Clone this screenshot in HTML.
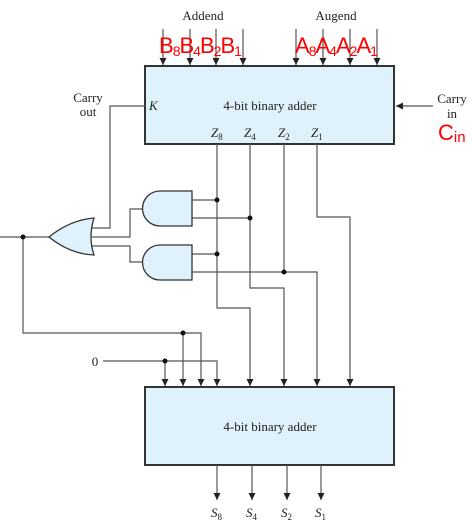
<!DOCTYPE html>
<html><head><style>
body{margin:0;background:#fff;}
svg{display:block;}
text{font-family:"Liberation Serif",serif;fill:#222;}
.r{font-family:"Liberation Sans",sans-serif;fill:#f00;}
</style></head><body>
<svg width="472" height="531" viewBox="0 0 472 531" xmlns="http://www.w3.org/2000/svg">
<defs><marker id="a" markerWidth="8" markerHeight="8" refX="7" refY="4" orient="auto" markerUnits="userSpaceOnUse"><path d="M0,0.5 L7,4 L0,7.5 Z" fill="#222"/></marker></defs>
<rect x="145" y="66" width="249" height="78" fill="#dff1fb" stroke="#333" stroke-width="2"/>
<rect x="145" y="387" width="249" height="78" fill="#dff1fb" stroke="#333" stroke-width="2"/>
<g stroke="#555" stroke-width="1.2" fill="none" marker-end="url(#a)">
<path d="M163,29V65"/><path d="M190,29V65"/><path d="M216,29V65"/><path d="M243,29V65"/>
<path d="M296,29V65"/><path d="M323,29V65"/><path d="M350,29V65"/><path d="M377,29V65"/>
<path d="M433,106H396"/>
<path d="M23,237V333H201V386"/><path d="M183,333V386"/>
<path d="M103,361H217V386"/><path d="M165,361V386"/>
<path d="M217,144V308H250V386"/>
<path d="M250,144V288H284V386"/>
<path d="M192,272H317V386"/>
<path d="M317,144V217H350V386"/>
<path d="M217,465V500"/><path d="M252,465V500"/><path d="M287,465V500"/><path d="M321,465V500"/>
</g>
<g stroke="#555" stroke-width="1.2" fill="none">
<path d="M0,237H49"/>
<path d="M145,106H110V228H92"/>
<path d="M92,237H130V209H146"/>
<path d="M92,246H130V262H146"/>
<path d="M192,200H217"/><path d="M192,218H250"/><path d="M192,254H217"/>
<path d="M284,144V272"/>
</g>
<g fill="#dff1fb" stroke="#333" stroke-width="1.3">
<path d="M160,191H192V226H160A17.5,17.5 0 0 1 160,191Z"/>
<path d="M160,245H192V280H160A17.5,17.5 0 0 1 160,245Z"/>
<path d="M49,237Q70,220 94,218Q88,237 94,255Q70,254 49,237Z"/>
</g>
<g fill="#111">
<circle cx="23" cy="237" r="2.5"/><circle cx="217" cy="200" r="2.5"/><circle cx="250" cy="218" r="2.5"/>
<circle cx="217" cy="254" r="2.5"/><circle cx="284" cy="272" r="2.5"/><circle cx="183" cy="333" r="2.5"/><circle cx="165" cy="361" r="2.5"/>
</g>
<g font-size="13">
<text x="203" y="20" text-anchor="middle">Addend</text>
<text x="336" y="20" text-anchor="middle">Augend</text>
<text x="88" y="102" text-anchor="middle">Carry</text><text x="88" y="116" text-anchor="middle">out</text>
<text x="452" y="103" text-anchor="middle">Carry</text><text x="452" y="118" text-anchor="middle">in</text>
<text x="149" y="110" font-style="italic">K</text>
<text x="270" y="110" text-anchor="middle">4-bit binary adder</text>
<text x="270" y="431" text-anchor="middle">4-bit binary adder</text>
<text x="95" y="366" text-anchor="middle">0</text>
<text x="211" y="137" font-style="italic">Z<tspan font-size="9" dy="3" font-style="normal">8</tspan></text>
<text x="244" y="137" font-style="italic">Z<tspan font-size="9" dy="3" font-style="normal">4</tspan></text>
<text x="278" y="137" font-style="italic">Z<tspan font-size="9" dy="3" font-style="normal">2</tspan></text>
<text x="311" y="137" font-style="italic">Z<tspan font-size="9" dy="3" font-style="normal">1</tspan></text>
<text x="211" y="517" font-style="italic">S<tspan font-size="9" dy="3" font-style="normal">8</tspan></text>
<text x="246" y="517" font-style="italic">S<tspan font-size="9" dy="3" font-style="normal">4</tspan></text>
<text x="281" y="517" font-style="italic">S<tspan font-size="9" dy="3" font-style="normal">2</tspan></text>
<text x="315" y="517" font-style="italic">S<tspan font-size="9" dy="3" font-style="normal">1</tspan></text>
</g>
<text class="r" x="159" y="53" font-size="22" letter-spacing="-1">B<tspan font-size="14" dy="3">8</tspan><tspan dy="-3">B</tspan><tspan font-size="14" dy="3">4</tspan><tspan dy="-3">B</tspan><tspan font-size="14" dy="3">2</tspan><tspan dy="-3">B</tspan><tspan font-size="14" dy="3">1</tspan></text>
<text class="r" x="295" y="53" font-size="22" letter-spacing="-1">A<tspan font-size="14" dy="3">8</tspan><tspan dy="-3">A</tspan><tspan font-size="14" dy="3">4</tspan><tspan dy="-3">A</tspan><tspan font-size="14" dy="3">2</tspan><tspan dy="-3">A</tspan><tspan font-size="14" dy="3">1</tspan></text>
<text class="r" x="438" y="140" font-size="22">C<tspan font-size="15" dy="2">in</tspan></text>
</svg>
</body></html>
